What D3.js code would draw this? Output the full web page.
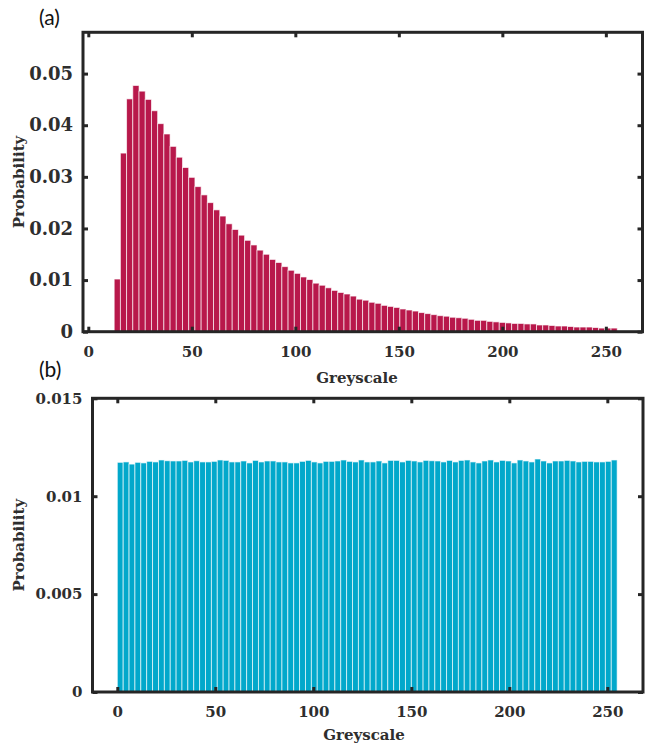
<!DOCTYPE html>
<html>
<head>
<meta charset="utf-8">
<script src="https://cdn.jsdelivr.net/npm/d3@7"></script>
<style>
  html, body { margin: 0; padding: 0; background: #fff; }
  svg { display: block; }
</style>
</head>
<body>
<svg id="fig" width="652" height="747"></svg>
<script>
// (a) greyscale histogram of the original image: 81 bins of width 3 starting at 12.5
const binStartA = 12.5;
const binWidthA = 3;
const probA = [
  0.0102, 0.0346, 0.0451, 0.0477, 0.0466, 0.0450, 0.0428, 0.0403, 0.0383, 0.0359,
  0.0338, 0.0318, 0.0299, 0.0281, 0.0265, 0.0250, 0.0236, 0.0224, 0.0209, 0.0198,
  0.0187, 0.0177, 0.0168, 0.0158, 0.0150, 0.0140, 0.0134, 0.0126, 0.0119, 0.0113,
  0.0106, 0.0101, 0.0094, 0.0090, 0.0085, 0.0080, 0.0076, 0.0073, 0.0069, 0.0063,
  0.0061, 0.0057, 0.0055, 0.0051, 0.0049, 0.0047, 0.0044, 0.0042, 0.0040, 0.0037,
  0.0035, 0.0033, 0.0031, 0.0030, 0.0028, 0.0027, 0.0026, 0.0024, 0.0022, 0.0022,
  0.0020, 0.0019, 0.0018, 0.0017, 0.0016, 0.0016, 0.0015, 0.0015, 0.0013, 0.0013,
  0.0012, 0.0011, 0.0011, 0.0010, 0.0009, 0.0009, 0.0009, 0.0008, 0.0007, 0.0007,
  0.0007
];

// (b) greyscale histogram after equalisation: 85 bins of width 3 from 0 to 255
const binStartB = 0;
const binWidthB = 3;
const probB = [
  0.01173, 0.01175, 0.01164, 0.01173, 0.01170, 0.01178, 0.01175, 0.01185, 0.01181, 0.01180,
  0.01180, 0.01183, 0.01175, 0.01181, 0.01175, 0.01175, 0.01178, 0.01185, 0.01183, 0.01175,
  0.01175, 0.01180, 0.01170, 0.01183, 0.01175, 0.01180, 0.01180, 0.01175, 0.01175, 0.01170,
  0.01170, 0.01178, 0.01183, 0.01175, 0.01170, 0.01178, 0.01178, 0.01180, 0.01185, 0.01178,
  0.01175, 0.01185, 0.01175, 0.01175, 0.01180, 0.01170, 0.01183, 0.01183, 0.01175, 0.01183,
  0.01180, 0.01175, 0.01183, 0.01181, 0.01180, 0.01175, 0.01183, 0.01175, 0.01183, 0.01185,
  0.01175, 0.01170, 0.01180, 0.01185, 0.01175, 0.01183, 0.01180, 0.01170, 0.01185, 0.01180,
  0.01175, 0.01190, 0.01180, 0.01170, 0.01180, 0.01180, 0.01183, 0.01180, 0.01175, 0.01178,
  0.01178, 0.01175, 0.01175, 0.01178, 0.01185
];

// Axis ticks and their labels
const xTicks = [0, 50, 100, 150, 200, 250];
const xTickLabels = ["0", "50", "100", "150", "200", "250"];
const yTicksA = [0, 0.01, 0.02, 0.03, 0.04, 0.05];
const yTickLabelsA = ["0", "0.01", "0.02", "0.03", "0.04", "0.05"];
const yTicksB = [0, 0.005, 0.01, 0.015];
const yTickLabelsB = ["0", "0.005", "0.01", "0.015"];

const xTitle = "Greyscale";
const yTitle = "Probability";
const panelTags = ["(a)", "(b)"];

const svg = d3.select("#fig");
const ink = "#262626";
const serif = "'DejaVu Serif', serif";

function drawPanel(p) {
  const x = d3.scaleLinear().domain(p.xDomain).range([p.left, p.right]);
  const y = d3.scaleLinear().domain(p.yDomain).range([p.bottom, p.top]);
  const g = svg.append("g");

  // histogram bars
  g.append("g").selectAll("rect")
    .data(p.values)
    .join("rect")
    .attr("x", (d, i) => x(p.binStart + i * p.binWidth))
    .attr("width", (d, i) => x(p.binStart + (i + 1) * p.binWidth) - x(p.binStart + i * p.binWidth))
    .attr("y", d => y(d))
    .attr("height", d => y(0) - y(d))
    .attr("fill", p.color)
    .attr("stroke", "#ffffff")
    .attr("stroke-width", 0.9)
    .attr("stroke-opacity", 0.7);

  const tickMap = (ticks, labels) => d => labels[ticks.indexOf(d)];

  // bottom axis with labels, inward ticks
  const gxb = g.append("g")
    .attr("transform", `translate(0,${p.bottom})`)
    .call(d3.axisBottom(x).tickValues(xTicks).tickFormat(tickMap(xTicks, xTickLabels))
      .tickSizeInner(-5).tickSizeOuter(0).tickPadding(p.xPad));
  // top mirror ticks
  const gxt = g.append("g")
    .attr("transform", `translate(0,${p.top})`)
    .call(d3.axisTop(x).tickValues(xTicks).tickFormat("").tickSizeInner(-5).tickSizeOuter(0));
  // left axis with labels
  const gyl = g.append("g")
    .attr("transform", `translate(${p.left},0)`)
    .call(d3.axisLeft(y).tickValues(p.yTicks).tickFormat(tickMap(p.yTicks, p.yLabels))
      .tickSizeInner(-5).tickSizeOuter(0).tickPadding(p.yPad));
  // right mirror ticks
  const gyr = g.append("g")
    .attr("transform", `translate(${p.right},0)`)
    .call(d3.axisRight(y).tickValues(p.yTicks).tickFormat("").tickSizeInner(-5).tickSizeOuter(0));

  [gxb, gxt, gyl, gyr].forEach(a => {
    a.select(".domain").remove();
    a.selectAll(".tick line").attr("stroke", ink).attr("stroke-width", 3);
  });
  gxb.selectAll("text")
    .attr("font-family", serif).attr("font-weight", "bold")
    .attr("font-size", p.xFont).attr("fill", "#2e2e2e");
  gyl.selectAll("text")
    .attr("font-family", serif).attr("font-weight", "bold")
    .attr("font-size", p.yFont).attr("fill", "#2e2e2e");

  // box frame
  g.append("rect")
    .attr("x", p.left).attr("y", p.top)
    .attr("width", p.right - p.left).attr("height", p.bottom - p.top)
    .attr("fill", "none").attr("stroke", ink).attr("stroke-width", 3);

  // axis titles
  g.append("text")
    .attr("x", p.xTitleX).attr("y", p.xTitleY)
    .attr("text-anchor", "middle")
    .attr("font-family", serif).attr("font-weight", "bold")
    .attr("font-size", 15).attr("fill", "#2e2e2e")
    .text(xTitle);
  g.append("text")
    .attr("transform", `translate(${p.yTitleX},${(p.top + p.bottom) / 2}) rotate(-90)`)
    .attr("text-anchor", "middle")
    .attr("font-family", serif).attr("font-weight", "bold")
    .attr("font-size", 15).attr("fill", "#2e2e2e")
    .text(yTitle);

  // panel tag
  g.append("text")
    .attr("x", p.tagX).attr("y", p.tagY)
    .attr("font-family", "Lato, 'Open Sans', sans-serif")
    .attr("font-size", 21).attr("fill", "#111")
    .text(p.tag);
}

drawPanel({
  left: 83, right: 642.5, top: 32.3, bottom: 331.7,
  xDomain: [-2.56, 267.7], yDomain: [0, 0.058],
  values: probA, binStart: binStartA, binWidth: binWidthA,
  color: "#B8184B",
  yTicks: yTicksA, yLabels: yTickLabelsA,
  xPad: 15, yPad: 10, xFont: 15, yFont: 18,
  xTitleX: 357, xTitleY: 383, yTitleX: 24,
  tag: panelTags[0], tagX: 39, tagY: 25
});

drawPanel({
  left: 92.5, right: 643, top: 398.3, bottom: 692,
  xDomain: [-12.65, 268.2], yDomain: [0, 0.015],
  values: probB, binStart: binStartB, binWidth: binWidthB,
  color: "#02A8CB",
  yTicks: yTicksB, yLabels: yTickLabelsB,
  xPad: 14, yPad: 10, xFont: 15, yFont: 15,
  xTitleX: 364, xTitleY: 740, yTitleX: 24,
  tag: panelTags[1], tagX: 39, tagY: 377
});
</script>
</body>
</html>
